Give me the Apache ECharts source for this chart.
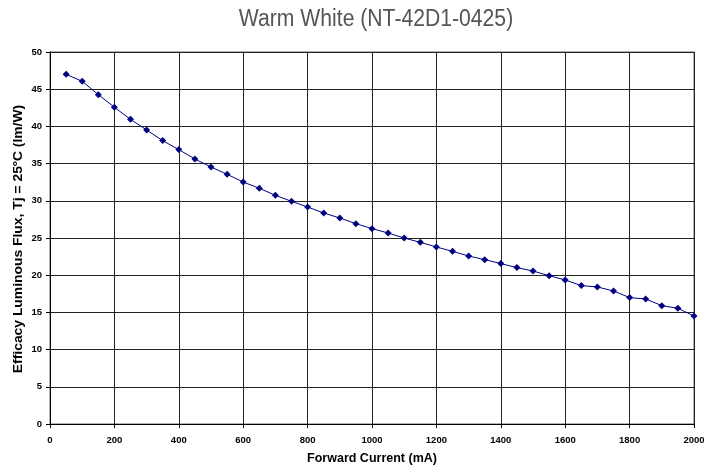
<!DOCTYPE html>
<html><head><meta charset="utf-8">
<script src="https://cdn.jsdelivr.net/npm/echarts@6/dist/echarts.min.js"></script>
<style>html,body{margin:0;padding:0;background:#fff}#c{width:709px;height:472px}</style>
</head><body><div id="c"></div>
<script>
const titleText = 'Warm White (NT-42D1-0425)';
const xName = 'Forward Current (mA)';
const yName = 'Efficacy Luminous Flux, Tj = 25ºC (lm/W)';
const currents = [50,100,150,200,250,300,350,400,450,500,550,600,650,700,750,800,850,900,950,1000,1050,1100,1150,1200,1250,1300,1350,1400,1450,1500,1550,1600,1650,1700,1750,1800,1850,1900,1950,2000];
const efficacy = [47.0,46.06,44.27,42.57,40.95,39.52,38.09,36.88,35.62,34.54,33.56,32.53,31.68,30.74,29.93,29.17,28.36,27.69,26.93,26.26,25.67,25.0,24.42,23.79,23.21,22.58,22.09,21.56,21.02,20.56,19.94,19.36,18.6,18.42,17.88,16.99,16.8,15.91,15.55,14.52];

const chart = echarts.init(document.getElementById('c'));
const lblFont = {fontFamily:'Liberation Sans, Arial, sans-serif', fontWeight:'bold', fontSize:9.5, color:'#000'};
chart.setOption({
  animation:false,
  graphic:[
    {type:'text',x:376,y:20,scaleX:0.92,
      style:{text:titleText,fill:'#555',align:'center',verticalAlign:'middle',
        font:'normal 23px "Liberation Sans", Arial, sans-serif'}},
    {type:'text',x:18.5,y:239,rotation:Math.PI/2,scaleX:1.11,
      style:{text:yName,fill:'#000',align:'center',verticalAlign:'middle',
        font:'bold 12.5px "Liberation Sans", Arial, sans-serif'}}
  ],
  grid:{left:50,right:15,top:52,bottom:48,show:true,borderColor:'#666',borderWidth:1},
  xAxis:{type:'value',min:0,max:2000,interval:200,
    name:xName,nameLocation:'middle',nameGap:28,
    nameTextStyle:{fontFamily:'Liberation Sans, Arial, sans-serif',fontWeight:'bold',fontSize:12.5,color:'#000'},
    axisLine:{show:true,lineStyle:{color:'#000',width:1}},
    axisTick:{show:true,inside:false,length:4,lineStyle:{color:'#000'}},
    axisLabel:Object.assign({margin:11,formatter:v=>String(v)},lblFont),
    splitLine:{show:true,lineStyle:{color:'#222',width:1}}},
  yAxis:{type:'value',min:0,max:50,interval:5,
    axisLine:{show:true,lineStyle:{color:'#000',width:1}},
    axisTick:{show:true,inside:false,length:4,lineStyle:{color:'#000'}},
    axisLabel:Object.assign({margin:8,formatter:v=>String(v)},lblFont),
    splitLine:{show:true,lineStyle:{color:'#222',width:1}}},
  series:[{type:'line',data:currents.map((x,i)=>[x,efficacy[i]]),
    symbol:'diamond',symbolSize:7,showAllSymbol:true,
    lineStyle:{color:'#000080',width:1},
    itemStyle:{color:'#000080'}}]
});
</script></body></html>
